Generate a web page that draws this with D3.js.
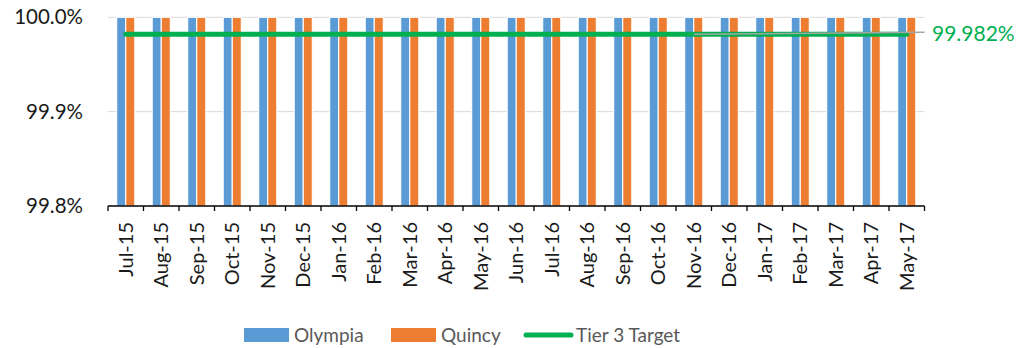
<!DOCTYPE html>
<html>
<head>
<meta charset="utf-8">
<script src="https://cdn.jsdelivr.net/npm/d3@7/dist/d3.min.js"></script>
<style>
  html, body { margin: 0; padding: 0; background: #fff; }
  svg { display: block; font-family: Lato, "Open Sans", sans-serif; }
</style>
</head>
<body>
<svg id="chart" width="1020" height="348"></svg>
<script>
// Monthly availability per site, with the Tier 3 target
const months = ["Jul-15","Aug-15","Sep-15","Oct-15","Nov-15","Dec-15","Jan-16","Feb-16","Mar-16",
  "Apr-16","May-16","Jun-16","Jul-16","Aug-16","Sep-16","Oct-16","Nov-16","Dec-16","Jan-17",
  "Feb-17","Mar-17","Apr-17","May-17"];
const olympia = [100.0,100.0,100.0,100.0,100.0,100.0,100.0,100.0,100.0,100.0,100.0,100.0,
  100.0,100.0,100.0,100.0,100.0,100.0,100.0,100.0,100.0,100.0,100.0];
const quincy = [100.0,100.0,100.0,100.0,100.0,100.0,100.0,100.0,100.0,100.0,100.0,100.0,
  100.0,100.0,100.0,100.0,100.0,100.0,100.0,100.0,100.0,100.0,100.0];
const target = 99.982;
const yTicks = [99.8, 99.9, 100.0];
const seriesNames = ["Olympia", "Quincy", "Tier 3 Target"];

const colors = { Olympia: "#5b9bd5", Quincy: "#ed7d31", target: "#00b050" };

const svg = d3.select("#chart");
const plot = { left: 108, right: 924.5, top: 17.3, bottom: 206 };

const x = d3.scaleBand().domain(months).range([plot.left, plot.right]).padding(0);
const bw = x.bandwidth();
const xs = d3.scaleBand().domain(["Olympia", "Quincy"]).range([bw * 0.245, bw * 0.755]).padding(0);
const y = d3.scaleLinear().domain([99.8, 100.0]).range([plot.bottom, plot.top]);

// Horizontal gridlines
svg.append("g")
  .selectAll("line")
  .data(yTicks.filter(t => t > 99.8))
  .join("line")
  .attr("x1", plot.left).attr("x2", plot.right)
  .attr("y1", d => y(d)).attr("y2", d => y(d))
  .attr("stroke", "#d9d9d9").attr("stroke-width", 1);

// Y-axis labels
svg.append("g")
  .selectAll("text")
  .data(yTicks)
  .join("text")
  .attr("x", 83)
  .attr("y", d => y(d))
  .attr("dy", "0.35em")
  .attr("text-anchor", "end")
  .attr("font-size", 20.5)
  .attr("fill", "#1a1a1a")
  .text(d => d3.format(".1f")(d) + "%");

// Bars
const rows = months.map((m, i) => ({ month: m, Olympia: olympia[i], Quincy: quincy[i] }));
const groups = svg.append("g").selectAll("g")
  .data(rows)
  .join("g")
  .attr("transform", d => `translate(${x(d.month)},0)`);
groups.selectAll("rect")
  .data(d => ["Olympia", "Quincy"].map(k => ({ key: k, value: d[k] })))
  .join("rect")
  .attr("x", d => xs(d.key))
  .attr("width", xs.bandwidth())
  .attr("y", d => y(d.value))
  .attr("height", d => y(99.8) - y(d.value))
  .attr("fill", d => colors[d.key])
  .attr("stroke", "#fff")
  .attr("stroke-width", 1.1);

// X axis
const xAxis = svg.append("g").attr("transform", `translate(0,${plot.bottom})`);
xAxis.append("line")
  .attr("x1", plot.left).attr("x2", plot.right)
  .attr("stroke", "#000").attr("stroke-width", 1.3);
const tickPos = months.map(m => x(m)).concat([plot.right]);
xAxis.selectAll("line.tick")
  .data(tickPos)
  .join("line")
  .attr("class", "tick")
  .attr("x1", d => d).attr("x2", d => d)
  .attr("y1", 0).attr("y2", 5)
  .attr("stroke", "#000").attr("stroke-width", 1.3);
xAxis.selectAll("text")
  .data(months)
  .join("text")
  .attr("transform", d => `translate(${x(d) + bw / 2},16) rotate(-90)`)
  .attr("text-anchor", "end")
  .attr("dy", "0.35em")
  .attr("font-size", 20)
  .attr("fill", "#1a1a1a")
  .text(d => d);

// Target line
const ty = y(target);
svg.append("line")
  .attr("x1", x(months[0]) + bw / 2)
  .attr("x2", x(months[months.length - 1]) + bw / 2)
  .attr("y1", ty).attr("y2", ty)
  .attr("stroke", colors.target)
  .attr("stroke-width", 5)
  .attr("stroke-linecap", "round");

// Leader line and value label for the target
const leadStart = x("Nov-16") + bw / 2;
svg.append("line")
  .attr("x1", leadStart).attr("y1", ty)
  .attr("x2", plot.right).attr("y2", ty - 2)
  .attr("stroke", "#a6a6a6").attr("stroke-width", 1.5);
svg.append("text")
  .attr("x", 932)
  .attr("y", ty - 1)
  .attr("dy", "0.35em")
  .attr("font-size", 21)
  .attr("fill", colors.target)
  .text(d3.format(".3f")(target) + "%");

// Legend
const legend = svg.append("g").attr("font-size", 19).attr("fill", "#595959");
const legendItems = [
  { name: seriesNames[0], x: 244, kind: "rect", color: colors.Olympia },
  { name: seriesNames[1], x: 391, kind: "rect", color: colors.Quincy },
  { name: seriesNames[2], x: 524, kind: "line", color: colors.target }
];
legendItems.forEach(it => {
  if (it.kind === "rect") {
    legend.append("rect").attr("x", it.x).attr("y", 328).attr("width", 45).attr("height", 14)
      .attr("fill", it.color);
    legend.append("text").attr("x", it.x + 50).attr("y", 335).attr("dy", "0.35em").text(it.name);
  } else {
    legend.append("line").attr("x1", it.x + 2).attr("x2", it.x + 47).attr("y1", 335).attr("y2", 335)
      .attr("stroke", it.color).attr("stroke-width", 5).attr("stroke-linecap", "round");
    legend.append("text").attr("x", it.x + 52).attr("y", 335).attr("dy", "0.35em").text(it.name);
  }
});
</script>
</body>
</html>
